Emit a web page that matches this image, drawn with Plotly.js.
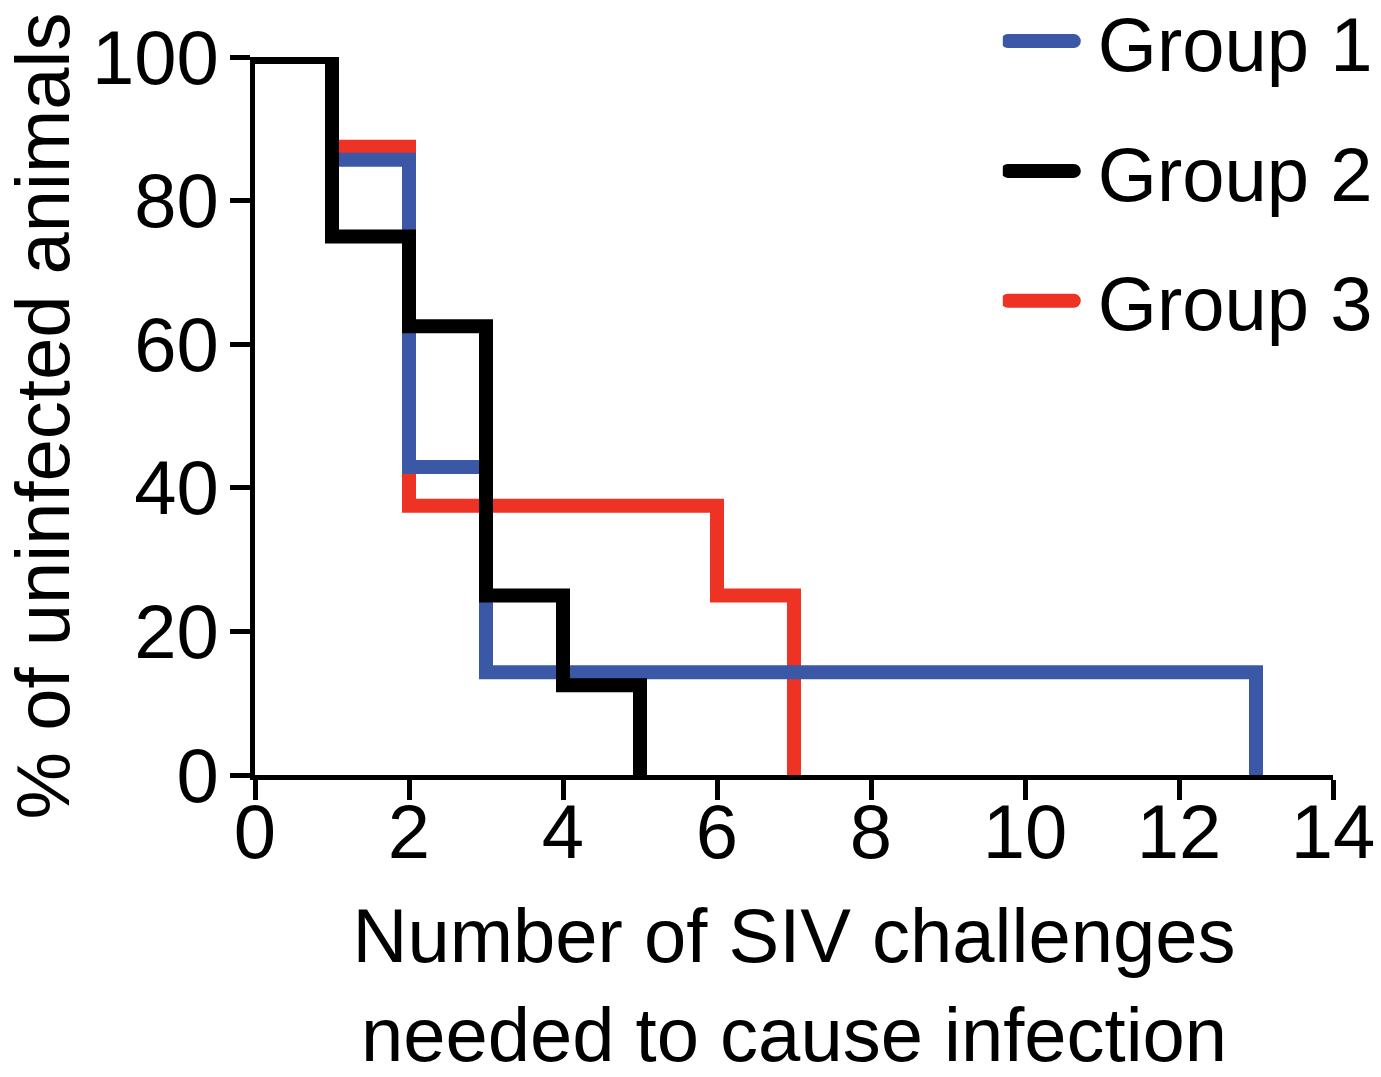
<!DOCTYPE html>
<html>
<head>
<meta charset="utf-8">
<script src="https://cdn.plot.ly/plotly-3.0.1.min.js"></script>
<style>
  html, body { margin: 0; padding: 0; background: #fff; }
  #chart { width: 1381px; height: 1077px; }
</style>
</head>
<body>
<div id="chart"></div>
<script>
// Data (Kaplan-Meier style step curves)
const group1X = [0, 1, 2, 3, 13];
const group1Y = [100, 85.7, 42.9, 14.3, 0];

const group2X = [0, 1, 2, 3, 4, 5];
const group2Y = [100, 75, 62.5, 25, 12.5, 0];

const group3X = [0, 1, 2, 6, 7];
const group3Y = [100, 87.5, 37.5, 25, 0];

const seriesNames = ["Group 1", "Group 2", "Group 3"];
const xTickVals = [0, 2, 4, 6, 8, 10, 12, 14];
const yTickVals = [0, 20, 40, 60, 80, 100];

const FONT = "Liberation Sans, Arial, Helvetica, sans-serif";
const BLUE = "#3B58A7";
const BLACK = "#000000";
const RED = "#EE3224";

function stepTrace(name, xs, ys, color, rank) {
  return {
    type: "scatter",
    mode: "lines",
    name: name,
    x: xs,
    y: ys,
    line: { shape: "hv", color: color, width: 14 },
    legendgroup: name,
    legendrank: rank,
    hoverinfo: "skip"
  };
}

// draw order: red below, blue middle, black on top
const data = [
  stepTrace(seriesNames[2], group3X, group3Y, RED, 3),
  stepTrace(seriesNames[0], group1X, group1Y, BLUE, 1),
  stepTrace(seriesNames[1], group2X, group2Y, BLACK, 2)
];

const layout = {
  width: 1381,
  height: 1077,
  paper_bgcolor: "#fff",
  plot_bgcolor: "#fff",
  margin: { l: 255, r: 48, t: 57, b: 302, autoexpand: false },
  font: { family: FONT, size: 76, color: "#000" },
  showlegend: true,
  hovermode: false,
  legend: {
    x: 0.6937, xanchor: "left",
    y: 1.1, yanchor: "top",
    font: { family: FONT, size: 76, color: "#000" },
    itemwidth: 85,
    tracegroupgap: 28,
    bgcolor: "rgba(0,0,0,0)",
    traceorder: "grouped"
  },
  xaxis: {
    range: [0, 14],
    tickvals: xTickVals,
    ticktext: xTickVals.map(String),
    showgrid: false,
    zeroline: false,
    showline: true,
    linecolor: "#000",
    linewidth: 5,
    ticks: "outside",
    ticklen: 20,
    tickwidth: 5,
    tickcolor: "#000",
    ticklabelstandoff: -33,
    tickfont: { family: FONT, size: 76, color: "#000" },
    title: {
      text: "Number of SIV challenges<br>needed to cause infection",
      font: { family: FONT, size: 76, color: "#000" },
      standoff: 38
    },
    fixedrange: true
  },
  yaxis: {
    range: [0, 100],
    tickvals: yTickVals,
    ticktext: yTickVals.map(String),
    showgrid: false,
    zeroline: false,
    showline: true,
    linecolor: "#000",
    linewidth: 5,
    ticks: "outside",
    ticklen: 20,
    tickwidth: 5,
    tickcolor: "#000",
    ticklabelstandoff: -4,
    tickfont: { family: FONT, size: 76, color: "#000" },
    title: {
      text: "% of uninfected animals",
      font: { family: FONT, size: 76, color: "#000" },
      standoff: 10
    },
    fixedrange: true
  }
};

Plotly.newPlot("chart", data, layout, { displayModeBar: false, staticPlot: true }).then(function (gd) {
  // let thick step lines extend past the plot edges (as in the reference) and style joins/caps
  gd.querySelectorAll(".cartesianlayer .plot, .cartesianlayer .scatterlayer, .cartesianlayer .trace, .cartesianlayer .js-line").forEach(function (el) {
    el.removeAttribute("clip-path");
    el.style.clipPath = "none";
  });
  gd.querySelectorAll(".scatterlayer .js-line").forEach(function (p) {
    p.style.strokeLinecap = "round";
    p.style.strokeLinejoin = "miter";
  });
  gd.querySelectorAll(".legend .legendlines path").forEach(function (p) {
    p.style.strokeLinecap = "round";
    p.style.strokeWidth = "14px";
    var d = p.getAttribute("d") || "";
    var m = d.match(/^M([-\d.]+),([-\d.]+)h([-\d.]+)$/);
    if (m) {
      p.setAttribute("d", "M" + m[1] + "," + m[2] + "h66");
    }
  });
});
</script>
</body>
</html>
